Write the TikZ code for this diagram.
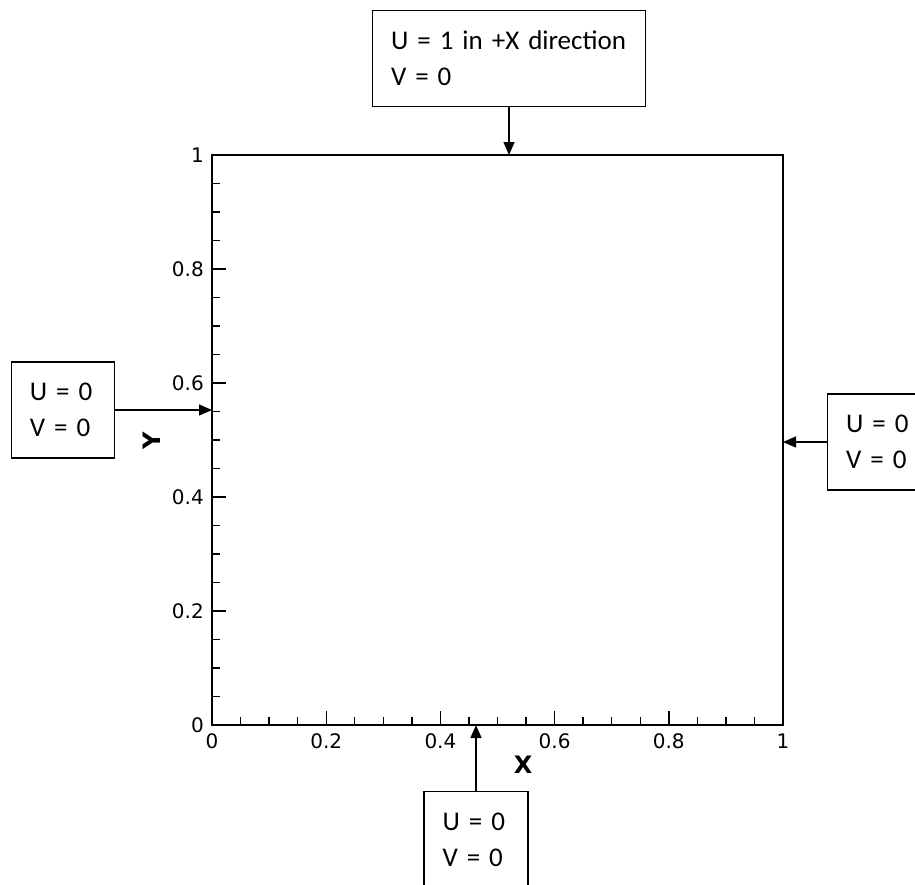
\documentclass[tikz,border=0pt]{standalone}
\usepackage{fontspec}
\setmainfont{DejaVu Sans}
\newfontfamily\bcfont{Carlito}
\usetikzlibrary{arrows.meta}

\tikzset{
  bcbox/.style={draw, line width=1.3pt, rectangle, align=left, inner xsep=18.5pt,
    inner ysep=0pt, minimum height=96pt, text width=#1, font=\fontsize{27}{36}\bcfont},
  bcarrow/.style={line width=1.3pt, -{Triangle[length=13pt, width=11pt]}},
  ticklab/.style={inner sep=0pt, font=\fontsize{20}{24}\selectfont}
}

\begin{document}
\begin{tikzpicture}[x=1pt, y=-1pt]
\useasboundingbox (0,0) rectangle (915,884);
\clip (0,0) rectangle (915,884);
% cavity
\draw[line width=2pt] (212,155) rectangle (783,725);
\foreach \i in {1,...,19}
	\draw[line width=1.4pt] (212+28.55*\i,725) -- ++(0,-8) (212,725-28.5*\i) -- ++(8,0);
\foreach \i in {1,...,4}
	\draw[line width=1.4pt] (212+114.2*\i,725) -- ++(0,-14) (212,725-114*\i) -- ++(14,0);
\foreach \i/\lab in {0/0,1/0.2,2/0.4,3/0.6,4/0.8,5/1} {
	\node[ticklab, anchor=base] (xl\i) at (212+114.2*\i,748) {\lab};
	\node[ticklab, anchor=base east] (yl\i) at (204,732-114*\i) {\lab};
}
\node[inner sep=0pt, anchor=base, font=\fontsize{24}{28}\selectfont\bfseries] (xlabel) at (523,773) {X};
\node[inner sep=0pt, rotate=90, font=\fontsize{24}{28}\selectfont\bfseries] (ylabel) at (152,441) {Y};
% boundary conditions
\coordinate (lid) at (509,155);
\coordinate (wallw) at (212,410);
\coordinate (walle) at (783,442);
\coordinate (wallb) at (476,725);
\node[bcbox=236pt, anchor=south] (lidbox) at (509,107) {U = 1 in +X direction\\V = 0};
\node[bcbox=66pt, anchor=east] (westbox) at (115,410) {U = 0\\V = 0};
\node[bcbox=66pt, anchor=west] (eastbox) at (827,442) {U = 0\\V = 0};
\node[bcbox=67pt, anchor=north] (southbox) at (476,791) {U = 0\\V = 0};
\draw[bcarrow] (lidbox.south) -- (lid);
\draw[bcarrow] (westbox.east) -- (wallw);
\draw[bcarrow] (eastbox.west) -- (walle);
\draw[bcarrow] (southbox.north) -- (wallb);
\end{tikzpicture}
\end{document}
